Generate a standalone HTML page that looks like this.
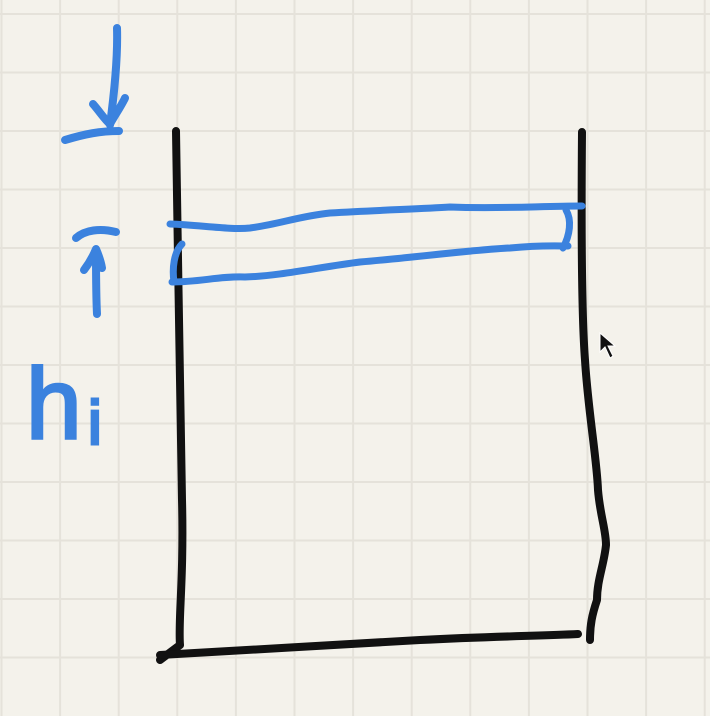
<!DOCTYPE html>
<html><head><meta charset="utf-8"><style>
html,body{margin:0;padding:0;background:#f4f2eb;}
svg{display:block;}
</style></head><body>
<svg width="710" height="716" viewBox="0 0 710 716">
<rect width="710" height="716" fill="#f4f2eb"/>
<g id="grid" stroke="#e5e2da" stroke-width="2"></g>
<g fill="none" stroke="#111" stroke-width="8" stroke-linecap="round" stroke-linejoin="round">
<path d="M176,131 C178,250 180,400 182,500 C184,580 178,620 180,645 L160,660"/>
<path d="M160,655 C250,650 330,645 420,640 C500,636 540,636 578,634"/>
<path d="M582,132 C581,250 582,320 585,360 C588,410 597,460 598,490 C600,515 606,530 606,545 C604,565 597,580 597,600 C592,615 590,625 590,640"/>
</g>
<path d="M600,333 L600,352 L605,347 L610,358 L613,356 L608,346 L615,346 Z" fill="#111" stroke="#fff" stroke-width="1"/>
<g fill="none" stroke="#3b82de" stroke-width="7" stroke-linecap="round" stroke-linejoin="round">
<path d="M170,224 C200,225 230,230 250,228 C280,224 300,216 330,213 C380,210 420,209 450,207 C500,209 540,206 582,206"/>
<path d="M172,282 C200,282 220,276 245,277 C280,276 320,267 360,262 C420,257 470,250 510,248 C540,245 560,246 568,246"/>
<path d="M182,244 C174,252 172,268 174,282"/>
<path d="M566,210 C572,220 570,235 563,248"/>
</g>
<g fill="none" stroke="#3b82de" stroke-width="8" stroke-linecap="round" stroke-linejoin="round">
<path d="M117,28 C118,60 114,95 110,125"/>
<path d="M93,104 C100,112 105,120 110,124 C115,115 122,105 125,98"/>
<path d="M65,140 C85,134 100,131 119,131"/>
<path d="M76,238 C85,230 100,228 116,232"/>
<path d="M97,314 C96,295 96,270 96,250"/>
<path d="M84,270 C90,262 94,254 96,249 C99,256 101,262 102,268"/>
</g>
<text x="26" y="438" font-family="Liberation Sans, sans-serif" font-size="100" fill="#3b82de" stroke="#3b82de" stroke-width="3">h</text>
<text x="88" y="444" font-family="Liberation Sans, sans-serif" font-size="62" fill="#3b82de" stroke="#3b82de" stroke-width="3">i</text>
</svg>
<script>
const g=document.getElementById('grid');
for(let x=1.5;x<710;x+=58.6){const l=document.createElementNS('http://www.w3.org/2000/svg','line');l.setAttribute('x1',x);l.setAttribute('x2',x);l.setAttribute('y1',0);l.setAttribute('y2',716);


g.appendChild(l);}
for(let y=14;y<716;y+=58.5){const l=document.createElementNS('http://www.w3.org/2000/svg','line');l.setAttribute('y1',y);l.setAttribute('y2',y);l.setAttribute('x1',0);l.setAttribute('x2',710);


g.appendChild(l);}
</script>
</body></html>
